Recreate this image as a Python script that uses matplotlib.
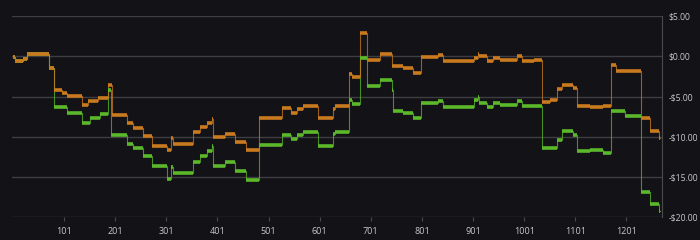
import numpy as np
import matplotlib.pyplot as plt

# Datos: inicio de cada escalón (x) y su valor
naranja_x = [1, 5, 21, 29, 40, 54, 72, 82, 97, 107, 136, 148, 168, 187, 195, 224, 236, 256,
             273, 302, 310, 314, 353, 367, 380, 390, 393, 416, 436, 456, 482, 528, 544, 557,
             569, 598, 626, 630, 658, 665, 680, 694, 719, 742, 764, 783, 800, 832, 842, 902,
             911, 913, 928, 940, 953, 986, 996, 1021, 1036, 1052, 1065, 1075, 1097, 1104,
             1130, 1155, 1170, 1180, 1230, 1248, 1264, 1266]
naranja_y = [-0.1, -0.6, -0.35, 0.3, 0.35, 0.25, -1.45, -4.2, -4.55, -4.97, -6.1, -5.6, -5.2,
             -3.5, -7.25, -8.3, -8.9, -9.95, -11.2, -11.6, -10.1, -10.85, -9.45, -8.8, -8.3,
             -7.8, -10.0, -9.6, -10.6, -11.6, -7.67, -6.42, -7.05, -6.6, -6.13, -7.67, -6.6,
             -6.13, -2.15, -2.57, 2.9, -0.41, 0.29, -1.24, -1.5, -2.07, -0.08, 0.2, -0.6,
             -0.2, 0.27, 0.0, -0.6, -0.2, -0.4, 0.1, -0.6, -0.4, -5.72, -5.4, -4.06, -3.52,
             -3.9, -6.13, -6.3, -6.13, -1.03, -1.78, -7.67, -9.3, -10.15, -10.15]

verde_x = [1, 5, 21, 29, 40, 54, 72, 82, 107, 136, 152, 171, 187, 193, 224, 236, 256, 273,
           302, 310, 314, 353, 367, 380, 390, 393, 416, 436, 456, 482, 528, 544, 557, 569,
           598, 626, 630, 658, 665, 680, 694, 719, 742, 744, 764, 783, 800, 832, 842, 902,
           911, 913, 928, 940, 953, 986, 996, 1036, 1065, 1075, 1097, 1104, 1130, 1155,
           1170, 1199, 1230, 1248, 1264, 1266]
verde_y = [-0.1, -0.6, -0.35, 0.3, 0.35, 0.25, -1.45, -6.3, -7.05, -8.3, -7.7, -7.2, -4.15,
           -9.74, -10.86, -11.4, -12.4, -13.7, -15.3, -13.8, -14.5, -13.2, -12.4, -11.8,
           -11.2, -13.7, -13.1, -14.3, -15.4, -10.98, -9.74, -10.3, -9.74, -9.45, -11.1,
           -9.6, -9.45, -5.39, -5.9, -0.2, -3.64, -2.98, -4.2, -6.84, -7.1, -7.67, -5.8,
           -5.5, -6.3, -5.4, -5.0, -5.8, -6.3, -5.8, -6.0, -5.6, -6.2, -11.4, -10.4, -9.33,
           -9.74, -11.8, -11.6, -12.0, -6.84, -7.46, -16.9, -18.4, -19.2, -19.2]

ticks_x = [101, 201, 301, 401, 501, 601, 701, 801, 901, 1001, 1101, 1201]
ticks_y = [5, 0, -5, -10, -15, -20]

fondo = '#131217'
c_naranja = '#c97a1e'
c_verde = '#5cb82b'

fig = plt.figure(figsize=(7, 2.4), dpi=100, facecolor=fondo)
ax = fig.add_axes([12 / 700, 23 / 240, 649.7 / 700, 200.7 / 240], facecolor=fondo)

# Series: línea fina de escalones y tramos horizontales gruesos
for xs, ys, c in [(verde_x, verde_y, c_verde), (naranja_x, naranja_y, c_naranja)]:
    ax.plot(xs, ys, drawstyle='steps-post', color=c, lw=0.8, alpha=0.75, zorder=3)
    ax.hlines(ys[:-1], xs[:-1], xs[1:], color=c, lw=2.6, zorder=4)

ax.set_xlim(-1, 1270)
ax.set_ylim(-20, 5)
ax.set_xticks(ticks_x)
ax.set_yticks(ticks_y)
ax.set_yticklabels([f'${v:.2f}' if v >= 0 else f'-${-v:.2f}' for v in ticks_y])
ax.yaxis.tick_right()
ax.grid(axis='y', color='#3e3e42', lw=1)
ax.set_axisbelow(True)
for lado in ['top', 'left', 'bottom']:
    ax.spines[lado].set_visible(False)
ax.spines['right'].set_color('#4a4a4e')
ax.tick_params(axis='x', colors='#4a4a4e', labelcolor='#c8c8c8', length=3,
               labelsize=6.5, pad=4)
ax.tick_params(axis='y', length=0, labelcolor='#c8c8c8', labelsize=6.2, pad=5)
for t in ax.get_xticklabels() + ax.get_yticklabels():
    t.set_family('Open Sans')

fig.savefig('out.png', dpi=100, facecolor=fondo)
